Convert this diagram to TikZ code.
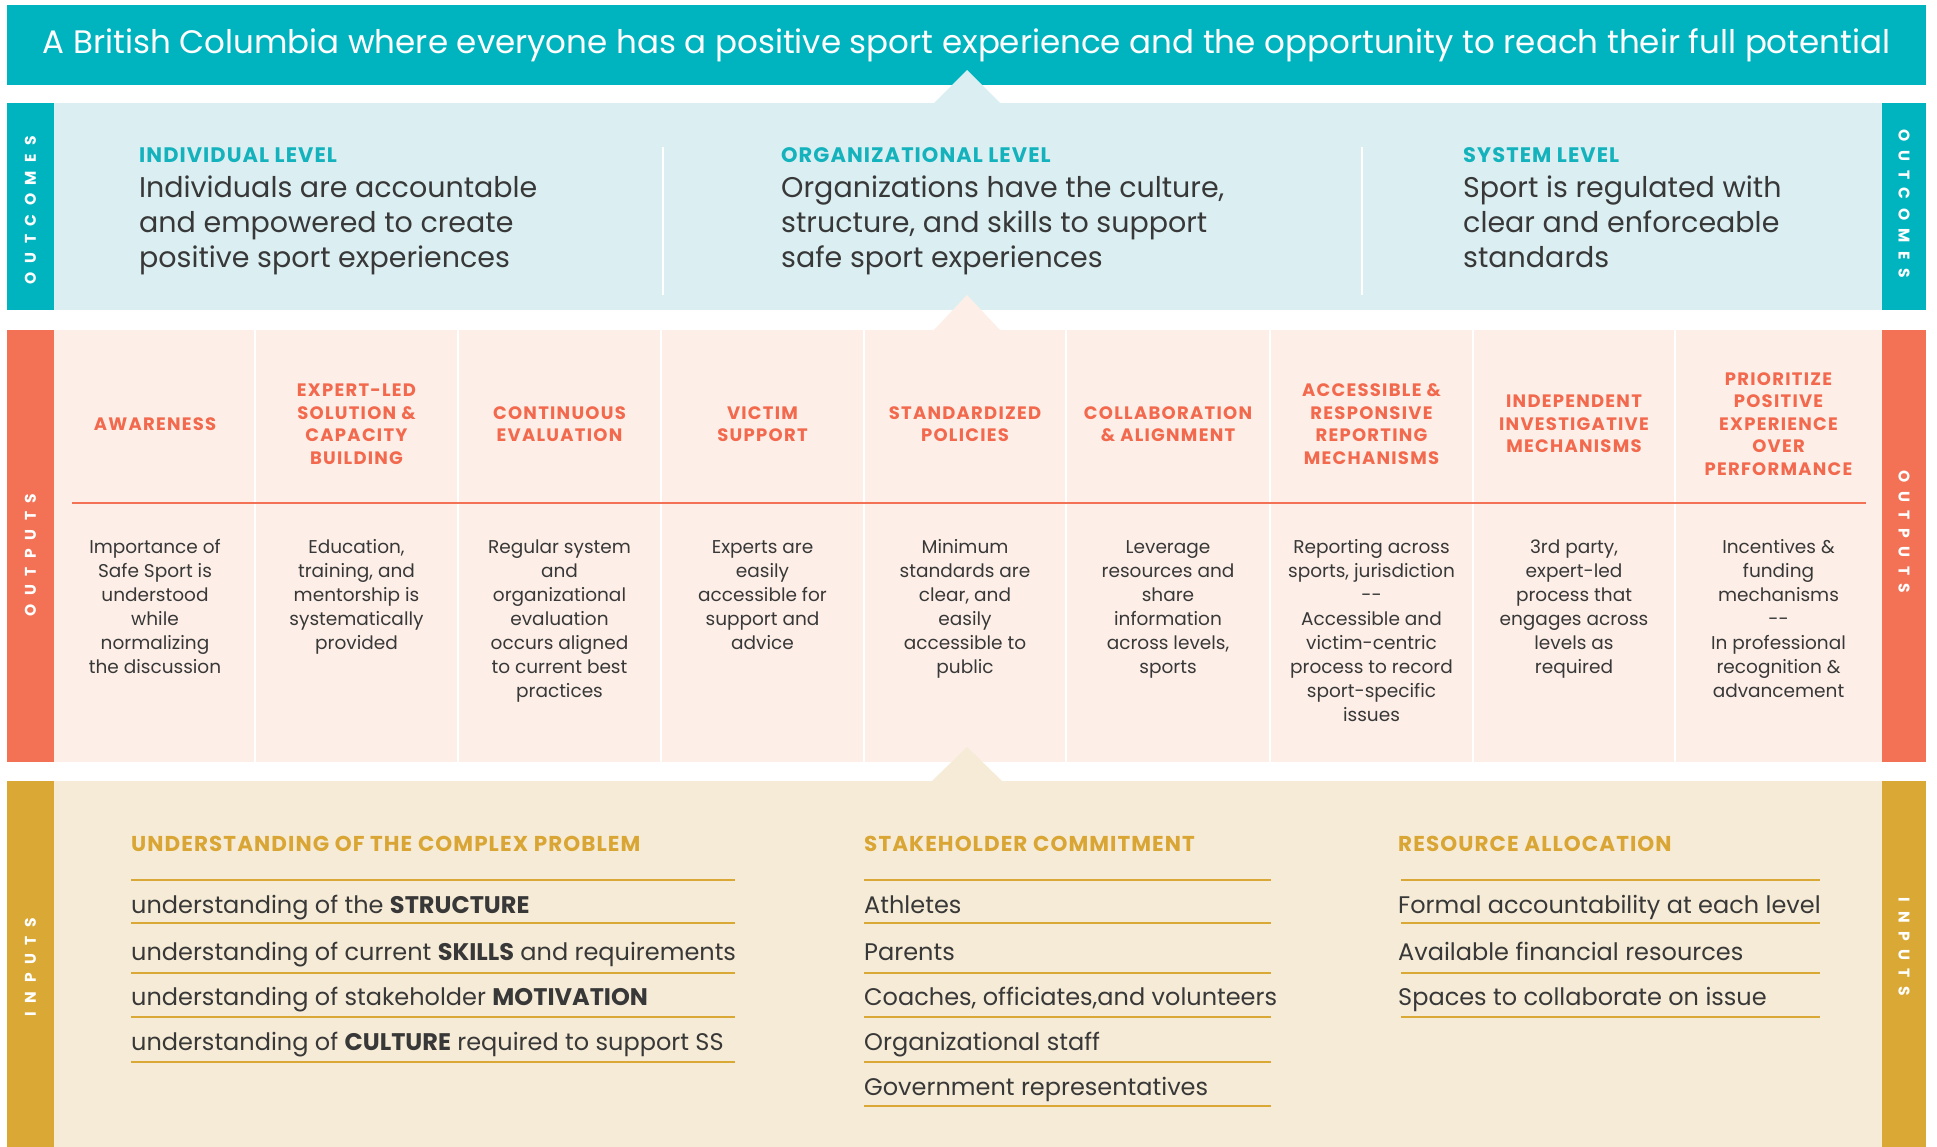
\documentclass[tikz,border=0pt]{standalone}
\usepackage{fontspec}
\setmainfont{Poppins}
\definecolor{bcteal}{HTML}{00B4BF}
\definecolor{outcbg}{HTML}{DBEFF2}
\definecolor{bccoral}{HTML}{F37155}
\definecolor{outpbg}{HTML}{FDEFE7}
\definecolor{bcgold}{HTML}{DAA834}
\definecolor{inpbg}{HTML}{F6EBD6}
\definecolor{headteal}{HTML}{14B2BC}
\definecolor{headcoral}{HTML}{F2694E}
\definecolor{headgold}{HTML}{D9A635}
\definecolor{bctext}{HTML}{383838}
\begin{document}
\begin{tikzpicture}[x=1pt,y=-1pt,
 labelstrip/.style={font=\fontsize{15.5}{15.5}\selectfont\addfontfeature{LetterSpace=55}\bfseries,text=white,inner sep=0},
 levelhead/.style={font=\fontsize{21}{21}\selectfont\addfontfeature{LetterSpace=5}\bfseries,text=headteal,anchor=base west,inner sep=0},
 leveltext/.style={font=\fontsize{28.5}{35}\selectfont,text=bctext,anchor=base west,align=left,inner sep=0},
 colhead/.style={font=\fontsize{18}{22.5}\selectfont\addfontfeature{LetterSpace=7}\bfseries,text=headcoral,align=center,inner sep=0},
 coltext/.style={font=\fontsize{18.5}{24}\selectfont,text=bctext,anchor=base,align=center,inner sep=0},
 inhead/.style={font=\fontsize{21.5}{21.5}\selectfont\addfontfeature{LetterSpace=5}\bfseries,text=headgold,anchor=base west,inner sep=0},
 initem/.style={font=\fontsize{24}{24}\selectfont,text=bctext,anchor=base west,inner sep=0},
 inrule/.style={bcgold,line width=2pt},
 divider/.style={white,line width=2.5pt}]
\useasboundingbox (0,0) rectangle (1937,1147);
\fill[white] (0,0) rectangle (1937,1147);
% vision
\fill[bcteal] (7,5) rectangle (1926,85);
\node[font=\fontsize{32.5}{32.5}\selectfont,text=white,anchor=base,inner sep=0] (vision) at (966.5,54) {A British Columbia where everyone has a positive sport experience and the opportunity to reach their full potential};
% outcomes
\fill[outcbg] (7,103) rectangle (1926,310);
\fill[outcbg] (934,103) -- (967,70) -- (1000,103) -- cycle;
\fill[bcteal] (7,103) rectangle (54,310);
\fill[bcteal] (1882,103) rectangle (1926,310);
\node[labelstrip,rotate=90] (outcleft) at (30.5,210) {OUTCOMES};
\node[labelstrip,rotate=-90] (outcright) at (1904,204) {OUTCOMES};
\draw[divider] (663,147) -- (663,295);
\draw[divider] (1362,147) -- (1362,295);
\node[levelhead] (indhead) at (139,163) {INDIVIDUAL LEVEL};
\node[leveltext] (indtext) at (139,268) {Individuals are accountable\\and empowered to create\\positive sport experiences};
\node[levelhead] (orghead) at (781,163) {ORGANIZATIONAL LEVEL};
\node[leveltext] (orgtext) at (781,268) {Organizations have the culture,\\structure, and skills to support\\safe sport experiences};
\node[levelhead] (syshead) at (1463,163) {SYSTEM LEVEL};
\node[leveltext] (systext) at (1463,268) {Sport is regulated with\\clear and enforceable\\standards};
% outputs
\fill[outpbg] (7,330) rectangle (1926,762);
\fill[outpbg] (934,330) -- (967,295) -- (1000,330) -- cycle;
\fill[bccoral] (7,330) rectangle (54,762);
\fill[bccoral] (1882,330) rectangle (1926,762);
\node[labelstrip,rotate=90] (outpleft) at (30.5,555) {OUTPUTS};
\node[labelstrip,rotate=-90] (outpright) at (1904,532) {OUTPUTS};
\draw[divider] (255,330) -- (255,762);
\draw[divider] (458,330) -- (458,762);
\draw[divider] (661,330) -- (661,762);
\draw[divider] (864,330) -- (864,762);
\draw[divider] (1066,330) -- (1066,762);
\draw[divider] (1270,330) -- (1270,762);
\draw[divider] (1473,330) -- (1473,762);
\draw[divider] (1675,330) -- (1675,762);
\draw[bccoral,line width=2.5pt] (72,503) -- (1866,503);
\node[colhead] (awarehead) at (155,424) {AWARENESS};
\node[coltext] (awaretext) at (155,673) {Importance of\\Safe Sport is\\understood\\while\\normalizing\\the discussion};
\node[colhead] (experthead) at (356.5,424) {EXPERT-LED\\SOLUTION \&\\CAPACITY\\BUILDING};
\node[coltext] (experttext) at (356.5,649) {Education,\\training, and\\mentorship is\\systematically\\provided};
\node[colhead] (evalhead) at (559.5,424) {CONTINUOUS\\EVALUATION};
\node[coltext] (evaltext) at (559.5,697) {Regular system\\and\\organizational\\evaluation\\occurs aligned\\to current best\\practices};
\node[colhead] (victimhead) at (762.5,424) {VICTIM\\SUPPORT};
\node[coltext] (victimtext) at (762.5,649) {Experts are\\easily\\accessible for\\support and\\advice};
\node[colhead] (policyhead) at (965,424) {STANDARDIZED\\POLICIES};
\node[coltext] (policytext) at (965,673) {Minimum\\standards are\\clear, and\\easily\\accessible to\\public};
\node[colhead] (collabhead) at (1168,424) {COLLABORATION\\\& ALIGNMENT};
\node[coltext] (collabtext) at (1168,673) {Leverage\\resources and\\share\\information\\across levels,\\sports};
\node[colhead] (reporthead) at (1371.5,424) {ACCESSIBLE \&\\RESPONSIVE\\REPORTING\\MECHANISMS};
\node[coltext] (reporttext) at (1371.5,721) {Reporting across\\sports, jurisdiction\\-{}-\\Accessible and\\victim-centric\\process to record\\sport-specific\\issues};
\node[colhead] (investhead) at (1574,424) {INDEPENDENT\\INVESTIGATIVE\\MECHANISMS};
\node[coltext] (investtext) at (1574,673) {3rd party,\\expert-led\\process that\\engages across\\levels as\\required};
\node[colhead] (priorhead) at (1778.5,424) {PRIORITIZE\\POSITIVE\\EXPERIENCE\\OVER\\PERFORMANCE};
\node[coltext] (priortext) at (1778.5,697) {Incentives \&\\funding\\mechanisms\\-{}-\\In professional\\recognition \&\\advancement};
% inputs
\fill[inpbg] (7,781) rectangle (1926,1147);
\fill[inpbg] (932,781) -- (967,747) -- (1002,781) -- cycle;
\fill[bcgold] (7,781) rectangle (54,1147);
\fill[bcgold] (1882,781) rectangle (1926,1147);
\node[labelstrip,rotate=90] (inpleft) at (30.5,967) {INPUTS};
\node[labelstrip,rotate=-90] (inpright) at (1904,947) {INPUTS};
\node[inhead] (probhead) at (131,851) {UNDERSTANDING OF THE COMPLEX PROBLEM};
\draw[inrule] (131,880) -- (735,880);
\node[initem] (structure) at (131,913) {understanding of the \textbf{STRUCTURE}};
\draw[inrule] (131,923) -- (735,923);
\node[initem] (skills) at (131,960) {understanding of current \textbf{SKILLS} and requirements};
\draw[inrule] (131,973) -- (735,973);
\node[initem] (motivation) at (131,1005) {understanding of stakeholder \textbf{MOTIVATION}};
\draw[inrule] (131,1017) -- (735,1017);
\node[initem] (culture) at (131,1050) {understanding of \textbf{CULTURE} required to support SS};
\draw[inrule] (131,1062) -- (735,1062);
\node[inhead] (stakehead) at (864,851) {STAKEHOLDER COMMITMENT};
\draw[inrule] (864,880) -- (1271,880);
\node[initem] (athletes) at (864,913) {Athletes};
\draw[inrule] (864,923) -- (1271,923);
\node[initem] (parents) at (864,960) {Parents};
\draw[inrule] (864,973) -- (1271,973);
\node[initem] (coaches) at (864,1005) {Coaches, officiates,and volunteers};
\draw[inrule] (864,1017) -- (1271,1017);
\node[initem] (staff) at (864,1050) {Organizational staff};
\draw[inrule] (864,1062) -- (1271,1062);
\node[initem] (government) at (864,1095) {Government representatives};
\draw[inrule] (864,1106) -- (1271,1106);
\node[inhead] (resohead) at (1398,851) {RESOURCE ALLOCATION};
\draw[inrule] (1401,880) -- (1820,880);
\node[initem] (formal) at (1398,913) {Formal accountability at each level};
\draw[inrule] (1401,923) -- (1820,923);
\node[initem] (financial) at (1398,960) {Available financial resources};
\draw[inrule] (1401,973) -- (1820,973);
\node[initem] (spaces) at (1398,1005) {Spaces to collaborate on issue};
\draw[inrule] (1401,1017) -- (1820,1017);
\end{tikzpicture}
\end{document}
